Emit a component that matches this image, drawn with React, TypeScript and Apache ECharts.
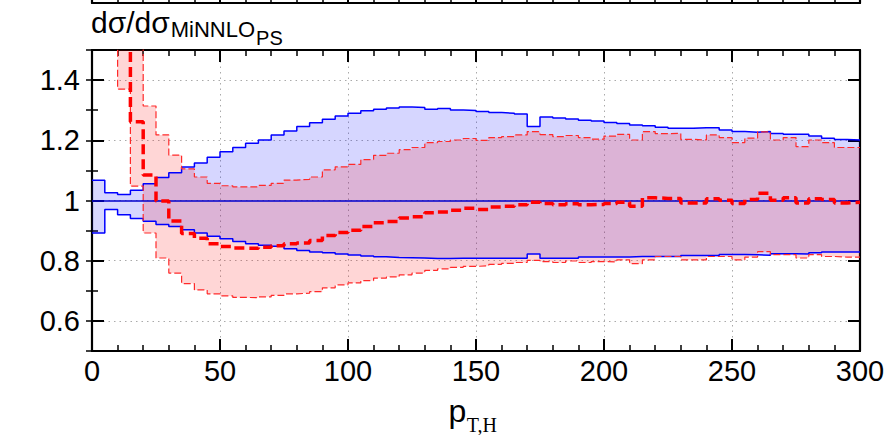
import React, { useEffect, useRef } from "react";
import * as echarts from "echarts";

// ---- axis ranges / bins ----
const BIN_WIDTH = 5;
const X_MIN = 0;
const X_MAX = 300;
const X_TICK = 50;
const Y_MIN = 0.5;
const Y_MAX = 1.5;
const REF_RATIO = 1;

// ---- texts ----
const TITLE_MAIN = "dσ/dσ";
const TITLE_SUB = "MiNNLO";
const TITLE_SUBSUB = "PS";
const XNAME_MAIN = "p";
const XNAME_SUB = "T,H";

// ---- series values (one value per 5 GeV bin, 0..300) ----
const blueUp = [
  1.067, 1.026, 1.02, 1.034, 1.056, 1.076, 1.092, 1.111, 1.125, 1.144,
  1.162, 1.176, 1.19, 1.201, 1.218, 1.231, 1.246, 1.258, 1.27, 1.281,
  1.29, 1.298, 1.303, 1.307, 1.311, 1.309, 1.303, 1.306, 1.301, 1.299,
  1.296, 1.292, 1.29, 1.287, 1.246, 1.277, 1.274, 1.271, 1.267, 1.264,
  1.259, 1.256, 1.251, 1.248, 1.243, 1.24, 1.24, 1.242, 1.242, 1.234,
  1.229, 1.227, 1.229, 1.223, 1.22, 1.22, 1.214, 1.207, 1.203, 1.201,
];
const blueLo = [
  0.892, 0.97, 0.953, 0.94, 0.931, 0.92, 0.914, 0.903, 0.892, 0.881,
  0.873, 0.864, 0.856, 0.851, 0.848, 0.84, 0.834, 0.829, 0.826, 0.822,
  0.819, 0.816, 0.813, 0.811, 0.81, 0.809, 0.807, 0.807, 0.808, 0.808,
  0.808, 0.808, 0.808, 0.808, 0.822, 0.808, 0.808, 0.808, 0.812, 0.812,
  0.812, 0.812, 0.814, 0.814, 0.814, 0.814, 0.817, 0.817, 0.817, 0.821,
  0.821, 0.82, 0.818, 0.823, 0.823, 0.822, 0.826, 0.829, 0.829, 0.829,
];
const redUp: (number | null)[] = [
  null, null, 1.8, 1.8, 1.314, 1.218, 1.151, 1.105, 1.078, 1.057,
  1.049, 1.045, 1.045, 1.05, 1.057, 1.068, 1.07, 1.078, 1.102, 1.112,
  1.12, 1.136, 1.15, 1.157, 1.169, 1.176, 1.192, 1.196, 1.201, 1.206,
  1.2, 1.209, 1.212, 1.218, 1.229, 1.219, 1.212, 1.216, 1.209, 1.204,
  1.214, 1.22, 1.201, 1.229, 1.222, 1.223, 1.203, 1.201, 1.218, 1.209,
  1.192, 1.207, 1.228, 1.201, 1.209, 1.179, 1.201, 1.192, 1.176, 1.176,
];
const redLo: (number | null)[] = [
  null, null, 1.37, 1.048, 0.892, 0.809, 0.759, 0.724, 0.703, 0.69,
  0.683, 0.678, 0.677, 0.68, 0.685, 0.69, 0.692, 0.697, 0.71, 0.72,
  0.726, 0.734, 0.742, 0.746, 0.753, 0.759, 0.768, 0.773, 0.778, 0.781,
  0.783, 0.788, 0.791, 0.794, 0.801, 0.797, 0.794, 0.799, 0.794, 0.797,
  0.796, 0.803, 0.79, 0.803, 0.814, 0.814, 0.803, 0.803, 0.814, 0.814,
  0.803, 0.812, 0.83, 0.82, 0.82, 0.809, 0.82, 0.814, 0.812, 0.812,
];
const redMid: (number | null)[] = [
  null, null, 1.7, 1.262, 1.085, 0.998, 0.932, 0.89, 0.875, 0.856,
  0.847, 0.842, 0.841, 0.845, 0.85, 0.856, 0.859, 0.867, 0.884, 0.894,
  0.901, 0.914, 0.926, 0.93, 0.942, 0.946, 0.959, 0.962, 0.968, 0.974,
  0.97, 0.978, 0.981, 0.986, 0.994, 0.99, 0.986, 0.989, 0.986, 0.987,
  0.99, 0.994, 0.981, 1.009, 1.007, 1.007, 0.992, 0.992, 1.006, 1.001,
  0.99, 1.003, 1.024, 1.001, 1.009, 0.992, 1.006, 1.003, 0.992, 0.994,
];

type V = number | null;

function steps(vals: V[]): [number, V][] {
  const pts: [number, V][] = vals.map((v, i) => [X_MIN + i * BIN_WIDTH, v]);
  pts.push([X_MIN + vals.length * BIN_WIDTH, vals[vals.length - 1]]);
  return pts;
}
function closedLower(lo: V[], up: V[]): [number, V][] {
  const pts = steps(lo);
  const k = lo.findIndex((v) => v != null);
  if (k > 0) pts.splice(k, 0, [pts[k][0], up[k]]);
  return pts;
}

function bandSeries(up: V[], lo: V[], fill: string, z: number) {
  const items = up.map((u, i) => [X_MIN + i * BIN_WIDTH, lo[i] ?? NaN, u ?? NaN]);
  return {
    type: "custom",
    xAxisIndex: 0,
    yAxisIndex: 0,
    z,
    silent: true,
    data: items,
    encode: { x: 0, y: [1, 2] },
    renderItem: (params: any, api: any) => {
      if (params.dataIndex !== 0) return null;
      const cy = (v: number) => Math.max(Y_MIN, Math.min(Y_MAX, v));
      const top: number[][] = [];
      const bottom: number[][] = [];
      for (let i = 0; i < up.length; i++) {
        const u = up[i];
        const l = lo[i];
        if (u == null || l == null) continue;
        const x0 = X_MIN + i * BIN_WIDTH;
        const x1 = x0 + BIN_WIDTH;
        top.push(api.coord([x0, cy(u)]), api.coord([x1, cy(u)]));
        bottom.push(api.coord([x0, cy(l)]), api.coord([x1, cy(l)]));
      }
      const points = top.concat(bottom.reverse());
      return { type: "polygon", shape: { points }, style: { fill } };
    },
  };
}

const FONT = "Liberation Sans";
const SERIF = "Liberation Serif";

function measure(text: string, size: number, family: string): number {
  const c = document.createElement("canvas").getContext("2d");
  if (!c) return text.length * size * 0.55;
  c.font = `${size}px "${family}"`;
  return c.measureText(text).width;
}

function App() {
  const ref = useRef<HTMLDivElement>(null);
  useEffect(() => {
    if (!ref.current) return;
    const chart = echarts.init(ref.current, null, { renderer: "svg" });
    const black = "#000";
    const xBase = {
      type: "value" as const,
      min: X_MIN,
      max: X_MAX,
      interval: X_TICK,
      axisLine: { show: true, onZero: false, lineStyle: { color: black, width: 2.2 } },
      axisTick: { show: true, inside: true, length: 12, lineStyle: { color: black, width: 2 } },
      minorTick: { show: true, splitNumber: 5, length: 6, lineStyle: { color: black, width: 1.5 } },
      splitLine: { show: false },
      axisLabel: { show: false },
    };
    const yLong = {
      type: "value" as const,
      gridIndex: 0,
      min: Y_MIN,
      max: Y_MAX,
      splitNumber: 5,
      axisLine: { show: true, onZero: false, lineStyle: { color: black, width: 2.2 } },
      axisTick: { show: true, inside: true, length: 12, lineStyle: { color: black, width: 2 } },
      splitLine: { show: false },
      axisLabel: { show: false },
    };
    const yShort = {
      type: "value" as const,
      gridIndex: 0,
      min: Y_MIN,
      max: Y_MAX,
      interval: 0.1,
      axisLine: { show: false },
      axisTick: { show: true, inside: true, length: 6, lineStyle: { color: black, width: 1.5 } },
      splitLine: { show: false },
      axisLabel: { show: false },
    };
    const yTopPanel = {
      type: "value" as const,
      gridIndex: 1,
      min: 0,
      max: 1,
      axisLine: { show: true, onZero: false, lineStyle: { color: black, width: 2.2 } },
      axisTick: { show: false },
      axisLabel: { show: false },
      splitLine: { show: false },
    };

    // text layout (sizes measured at run time)
    const aSize = 30, bSize = 22, cSize = 20;
    const wA = measure(TITLE_MAIN, aSize, FONT);
    const wB = measure(TITLE_SUB, bSize, FONT);
    const titleX = 91;
    const pSize = 32, sSize = 20;
    const wP = measure(XNAME_MAIN, pSize, FONT);
    const wS = measure(XNAME_SUB, sSize, SERIF);
    const nameX = 472.5 - (wP + wS) / 2;

    const txt = (text: string, x: number, y: number, size: number, family: string) => ({
      type: "text",
      x,
      y,
      silent: true,
      style: { text, fontSize: size, fontFamily: family, fill: black, align: "left", verticalAlign: "middle" },
    });

    const option: any = {
      animation: false,
      textStyle: { fontFamily: FONT },
      graphic: [
        txt(TITLE_MAIN, titleX, 33.3 - 0.347 * aSize, aSize, FONT),
        txt(TITLE_SUB, titleX + wA + 1, 37 - 0.347 * bSize, bSize, FONT),
        txt(TITLE_SUBSUB, titleX + wA + wB + 2, 44.5 - 0.347 * cSize, cSize, FONT),
        txt(XNAME_MAIN, nameX, 422 - 0.347 * pSize, pSize, FONT),
        txt(XNAME_SUB, nameX + wP + 0.5, 432 - 0.338 * sSize, sSize, SERIF),
      ],
      grid: [
        { left: 92, right: 34, top: 50, bottom: 84 },
        { left: 92, right: 34, top: 0, height: 3 },
      ],
      xAxis: [
        {
          ...xBase,
          gridIndex: 0,
          position: "bottom",
          axisLabel: { show: true, color: black, fontSize: 29, fontFamily: FONT, margin: 5 },
          splitLine: { show: true, lineStyle: { color: "#aaa", width: 1, type: [1.5, 4] } },
        },
        { ...xBase, gridIndex: 0, position: "top" },
        {
          ...xBase,
          gridIndex: 1,
          position: "bottom",
          axisTick: { ...xBase.axisTick, length: 13 },
          minorTick: { ...xBase.minorTick, length: 7 },
        },
      ],
      yAxis: [
        {
          ...yLong,
          position: "left",
          axisLabel: { show: true, color: black, fontSize: 29, fontFamily: FONT, margin: 12, showMinLabel: false, showMaxLabel: false },
          splitLine: { show: true, lineStyle: { color: "#aaa", width: 1, type: [1.5, 4] } },
        },
        { ...yLong, position: "right" },
        { ...yShort, position: "left" },
        { ...yShort, position: "right" },
        { ...yTopPanel, position: "left" },
        { ...yTopPanel, position: "right" },
      ],
      series: [
        bandSeries(blueUp, blueLo, "rgba(0,0,255,0.16)", 1),
        bandSeries(redUp, redLo, "rgba(255,0,0,0.16)", 2),
        { type: "line", step: "end", data: steps(blueUp), symbol: "none", lineStyle: { color: "#0000ff", width: 1.5 }, z: 3 },
        { type: "line", step: "end", data: steps(blueLo), symbol: "none", lineStyle: { color: "#0000ff", width: 1.5 }, z: 3 },
        { type: "line", step: "end", data: steps(redUp), symbol: "none", lineStyle: { color: "#ff2a2a", width: 1.2, type: [7, 3] }, z: 4 },
        { type: "line", step: "end", data: closedLower(redLo, redUp), symbol: "none", lineStyle: { color: "#ff2a2a", width: 1.2, type: [7, 3] }, z: 4 },
        {
          type: "line",
          data: [],
          symbol: "none",
          z: 5,
          markLine: {
            silent: true,
            symbol: "none",
            label: { show: false },
            lineStyle: { color: "#0000cc", width: 1.5, type: "solid" },
            data: [{ yAxis: REF_RATIO }],
          },
        },
        { type: "line", step: "end", data: steps(redMid), symbol: "none", lineStyle: { color: "#ff0000", width: 3.5, type: [10, 5] }, z: 6 },
        { type: "line", xAxisIndex: 2, yAxisIndex: 4, data: [], symbol: "none" },
      ],
    };
    chart.setOption(option);
    return () => chart.dispose();
  }, []);
  return (
    <div
      ref={ref}
      style={{ position: "fixed", left: 0, top: 0, width: 894, height: 435, background: "#fff" }}
    />
  );
}

export default App;
